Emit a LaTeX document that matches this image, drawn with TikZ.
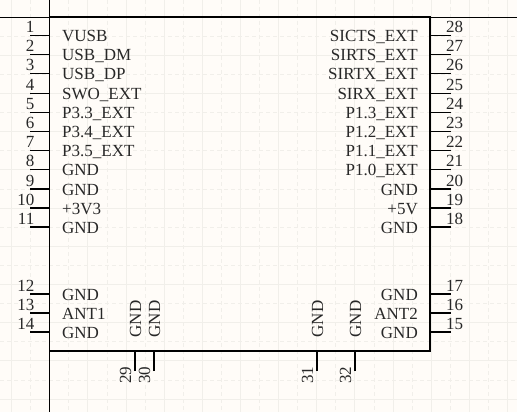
\documentclass[tikz,border=0pt]{standalone}
\usepackage{fontspec}
\setmainfont{Liberation Serif}
\definecolor{bgc}{RGB}{255,252,248}
\definecolor{gridc}{RGB}{241,239,234}
\definecolor{pinlab}{RGB}{40,40,40}
\tikzset{
  x=1pt,y=-1pt,
  gridminor/.style={gridc,line width=0.7pt,dash pattern=on 4pt off 3pt},
  gridmajor/.style={gridc,line width=0.9pt},
  axisline/.style={black,line width=0.9pt},
  body/.style={draw=black,line width=1.9pt,outer sep=0pt,inner sep=0pt},
  pinline/.style={black,line width=1.5pt},
  pinname/.style={font=\fontsize{17pt}{18pt}\selectfont,text=pinlab,inner sep=0pt},
  pinnum/.style={font=\fontsize{17pt}{18pt}\selectfont,text=pinlab,inner sep=0pt},
}
\begin{document}
\begin{tikzpicture}
\useasboundingbox (0,0) rectangle (517,412);
\fill[bgc] (0,0) rectangle (517,412);
\foreach \k in {0,...,13}{
  \draw[gridmajor] ({11.5+38.15*\k},0) -- ({11.5+38.15*\k},412);
  \draw[gridminor] ({30.6+38.15*\k},0) -- ({30.6+38.15*\k},412);
}
\foreach \k in {0,...,10}{
  \draw[gridmajor] (0,{17+38.2*\k}) -- (517,{17+38.2*\k});
  \draw[gridminor] (0,{36.1+38.2*\k}) -- (517,{36.1+38.2*\k});
}
\coordinate (axt) at (49.5,0);
\coordinate (axb) at (49.5,412);
\coordinate (axl) at (0,17);
\coordinate (axr) at (517,17);
\draw[axisline] (axt) -- (axb);
\draw[axisline] (axl) -- (axr);
\node[body,minimum width=380.5pt,minimum height=334pt,anchor=north west] (U) at (49.5,17) {};
% left pins
\foreach \n/\y/\t in {1/35.5/VUSB,2/54.5/USB\_DM,3/73.5/USB\_DP,4/93.5/SWO\_EXT,5/112.5/P3.3\_EXT,6/131.5/P3.4\_EXT,7/150.5/P3.5\_EXT,8/169.5/GND,9/189/GND,10/208/+3V3,11/227/GND,12/294/GND,13/313/ANT1,14/332/GND}{
  \coordinate (L\n) at (30,\y);
  \coordinate (LB\n) at (49.5,\y);
  \draw[pinline] (L\n) -- (LB\n);
  \node[pinnum,anchor=base east] (LN\n) at (34.5,\y-3) {\n};
  \node[pinname,anchor=base west] (LT\n) at (62,\y+6) {\t};
}
% right pins
\foreach \n/\y/\t in {28/35.5/SICTS\_EXT,27/54.5/SIRTS\_EXT,26/73.5/SIRTX\_EXT,25/93.5/SIRX\_EXT,24/112.5/P1.3\_EXT,23/131.5/P1.2\_EXT,22/150.5/P1.1\_EXT,21/169.5/P1.0\_EXT,20/189/GND,19/208/+5V,18/227/GND,17/294/GND,16/313/ANT2,15/332/GND}{
  \coordinate (R\n) at (451,\y);
  \coordinate (RB\n) at (430,\y);
  \draw[pinline] (R\n) -- (RB\n);
  \node[pinnum,anchor=base west] (RN\n) at (446,\y-3) {\n};
  \node[pinname,anchor=base east] (RT\n) at (418,\y+6) {\t};
}
% bottom pins
\foreach \n/\x in {29/135,30/154,31/317,32/355}{
  \coordinate (B\n) at (\x,371);
  \coordinate (BB\n) at (\x,351);
  \draw[pinline] (B\n) -- (BB\n);
  \node[pinnum,anchor=base east,rotate=90] (BN\n) at (\x-4,366.5) {\n};
  \node[pinname,anchor=base west,rotate=90] (BT\n) at (\x+6,337.5) {GND};
}
\end{tikzpicture}
\end{document}
